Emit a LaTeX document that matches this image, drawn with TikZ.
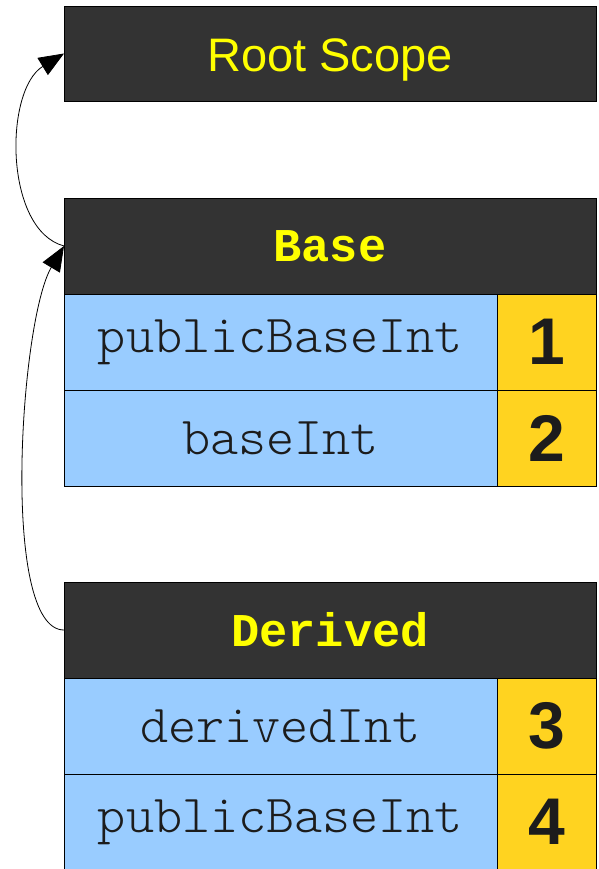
\documentclass[tikz,border=0pt]{standalone}
\usepackage{fontspec}
\setmainfont{Liberation Sans}
\newfontfamily\headmono{Liberation Mono}
\newfontfamily\fieldmono{Latin Modern Mono Light}
\usepackage{tikz}
\usetikzlibrary{arrows.meta}
\definecolor{headgray}{HTML}{333333}
\definecolor{fieldblue}{HTML}{99CCFF}
\definecolor{slotgold}{HTML}{FFD320}
\definecolor{labelyellow}{HTML}{FFFF00}
\definecolor{inkdark}{HTML}{1C1C1C}

\begin{document}
\begin{tikzpicture}[x=1pt, y=-1pt, every node/.style={inner sep=0pt, outer sep=0pt},
  head/.style={draw=black, line width=0.8pt, fill=headgray, text=labelyellow, minimum width=532, minimum height=96, font=\fontsize{47}{50}\selectfont\headmono\bfseries},
  field/.style={draw=black, line width=0.8pt, fill=fieldblue, text=inkdark, minimum width=433, minimum height=96, font=\fontsize{53.5}{56}\selectfont\fieldmono},
  slot/.style={draw=black, line width=0.8pt, fill=slotgold, text=inkdark, minimum width=99, minimum height=96, font=\fontsize{66}{70}\selectfont\bfseries},
  link/.style={line width=0.8pt, -{Triangle[length=25pt, width=20pt]}}]
\useasboundingbox (0,0) rectangle (598,869);
% root
\node [head, minimum height=95, font=\fontsize{47}{50}\selectfont, text depth=0pt] (root) at (330,53.5) {\raisebox{-4pt}{Root Scope}};
% Base
\node [head] (base) at (330,246) {Base};
\node [field] (baseA) at (280.5,342) {publicBaseInt};
\node [slot] (baseAnum) at (546.5,342) {1};
\node [field] (baseB) at (280.5,438) {baseInt};
\node [slot] (baseBnum) at (546.5,438) {2};
% Derived
\node [head] (derived) at (330,630) {Derived};
\node [field] (derivedA) at (280.5,726) {derivedInt};
\node [slot] (derivedAnum) at (546.5,726) {3};
\node [field] (derivedB) at (280.5,822) {publicBaseInt};
\node [slot] (derivedBnum) at (546.5,822) {4};
% parent links
\draw [link] (base.west) .. controls (4,230) and (4,90) .. (root.west);
\draw [link] (derived.west) .. controls (0,630) and (20,320) .. (base.west);
\end{tikzpicture}
\end{document}
